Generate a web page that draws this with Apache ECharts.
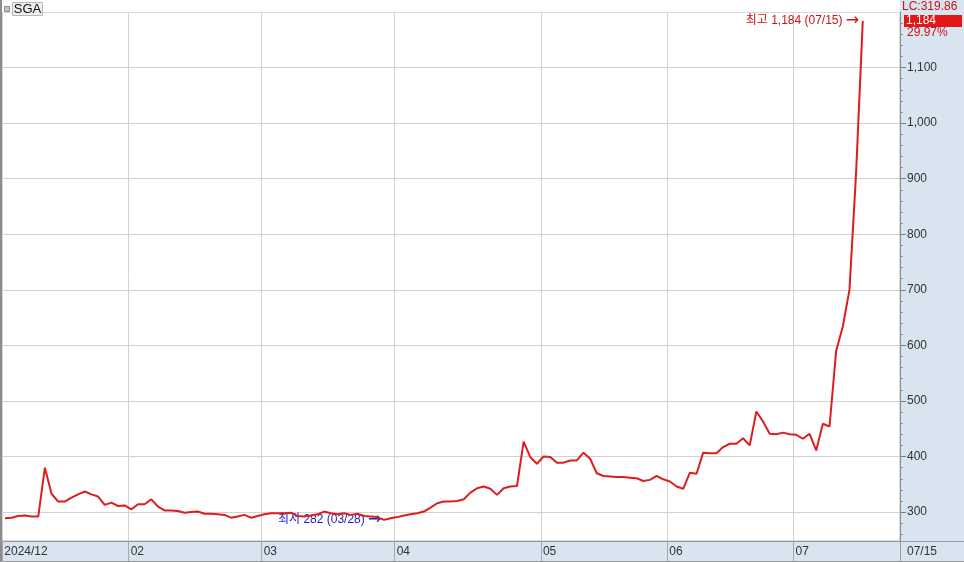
<!DOCTYPE html>
<html><head><meta charset="utf-8">
<script src="https://cdn.jsdelivr.net/npm/echarts@6/dist/echarts.min.js"></script>
<style>html,body{margin:0;padding:0;background:#fff}#c{width:964px;height:562px}</style>
</head><body><div id="c"></div>
<script>
// ---- data ----
const dates = [
 '2024/12/30',
 '2025/01/02','2025/01/03','2025/01/06','2025/01/07','2025/01/08','2025/01/09','2025/01/10','2025/01/13','2025/01/14','2025/01/15','2025/01/16','2025/01/17','2025/01/20','2025/01/21','2025/01/22','2025/01/23','2025/01/24','2025/01/31',
 '2025/02/03','2025/02/04','2025/02/05','2025/02/06','2025/02/07','2025/02/10','2025/02/11','2025/02/12','2025/02/13','2025/02/14','2025/02/17','2025/02/18','2025/02/19','2025/02/20','2025/02/21','2025/02/24','2025/02/25','2025/02/26','2025/02/27','2025/02/28',
 '2025/03/04','2025/03/05','2025/03/06','2025/03/07','2025/03/10','2025/03/11','2025/03/12','2025/03/13','2025/03/14','2025/03/17','2025/03/18','2025/03/19','2025/03/20','2025/03/21','2025/03/24','2025/03/25','2025/03/26','2025/03/27','2025/03/28','2025/03/31',
 '2025/04/01','2025/04/02','2025/04/03','2025/04/04','2025/04/07','2025/04/08','2025/04/09','2025/04/10','2025/04/11','2025/04/14','2025/04/15','2025/04/16','2025/04/17','2025/04/18','2025/04/21','2025/04/22','2025/04/23','2025/04/24','2025/04/25','2025/04/28','2025/04/29','2025/04/30',
 '2025/05/02','2025/05/07','2025/05/08','2025/05/09','2025/05/12','2025/05/13','2025/05/14','2025/05/15','2025/05/16','2025/05/19','2025/05/20','2025/05/21','2025/05/22','2025/05/23','2025/05/26','2025/05/27','2025/05/28','2025/05/29','2025/05/30',
 '2025/06/02','2025/06/04','2025/06/05','2025/06/09','2025/06/10','2025/06/11','2025/06/12','2025/06/13','2025/06/16','2025/06/17','2025/06/18','2025/06/19','2025/06/20','2025/06/23','2025/06/24','2025/06/25','2025/06/26','2025/06/27','2025/06/30',
 '2025/07/01','2025/07/02','2025/07/03','2025/07/04','2025/07/07','2025/07/08','2025/07/09','2025/07/10','2025/07/11','2025/07/14','2025/07/15'
];
const closes = [
 289,
 290,293,294,292,292,380,333,319,319,326,332,337,332,328,313,317,311,312,
 305,314,314,323,310,303,303,302,299,300,301,297,297,296,295,290,292,295,290,293,
 296,298,298,298,299,293,292,294,296,301,298,296,298,295,297,293,292,291,286,289,
 291,294,296,298,301,308,316,319,319,320,323,335,343,346,342,331,343,346,347,427,399,387,
 400,399,389,389,393,393,407,396,370,365,364,363,363,362,361,356,358,365,359,
 355,346,342,371,369,407,406,406,417,423,423,433,420,481,463,441,440,443,440,
 439,432,441,411,459,454,590,634,700,911,1184
];
const yTickValues = [300,400,500,600,700,800,900,1000,1100];
const yMinorTickValues = [260,280,320,340,360,380,420,440,460,480,520,540,560,580,620,640,660,680,720,740,760,780,820,840,860,880,920,940,960,980,1020,1040,1060,1080,1120,1140,1160,1180];
const highMark = {date:'2025/07/15', value:1184, label:'최고 1,184 (07/15) '};
const lowMark = {date:'2025/03/28', value:282, label:'최저 282 (03/28) '};
const symbolName = 'SGA';
const lcText = 'LC:319.86';
const lastPriceText = '1,184';
const lastChangeText = '29.97%';
const lastDateText = '07/15';

// ---- derived ----
const labelIdx = [], labelTxt = [];
dates.forEach((d, i) => {
  const ym = d.slice(0, 7);
  if (i === 0) { labelIdx.push(0); labelTxt.push(ym); return; }
  if (ym !== dates[i - 1].slice(0, 7)) {
    if (i - labelIdx[labelIdx.length - 1] > 10) { labelIdx.push(i); labelTxt.push(d.slice(5, 7)); }
  }
});
const GOFF = 0.4;
const tickVals = labelIdx.map(i => i - GOFF);
const seriesData = closes.map((v, i) => [i, v]);
const hiIdx = dates.indexOf(highMark.date);
const loIdx = dates.indexOf(lowMark.date);
const fmt = v => v.toLocaleString('en-US');
const FONT = 'Liberation Sans, "Noto Sans CJK KR", sans-serif';
const arrowRich = c => ({t: {color: c, fontSize: 12, fontFamily: FONT}, a: {color: c, fontSize: 16, fontFamily: 'DejaVu Sans', verticalAlign: 'middle'}});

const chart = echarts.init(document.getElementById('c'), null, {renderer: 'canvas'});
const option = {
  animation: false,
  backgroundColor: '#d8e4f0',
  textStyle: {fontFamily: FONT},
  grid: {left: 0, right: 64, top: 12, bottom: 21, show: true, backgroundColor: '#ffffff', borderColor: '#b4b4b4', borderWidth: 1},
  xAxis: {
    type: 'value', min: -0.75, max: 134.6,
    axisLine: {show: true, onZero: false, lineStyle: {color: '#999999'}},
    axisTick: {show: true, customValues: tickVals, length: 20, lineStyle: {color: '#a8a8a8'}},
    axisLabel: {
      show: true, customValues: tickVals, align: 'left', margin: 5, padding: [0, 0, 0, 2],
      color: '#333333', fontSize: 12, fontFamily: FONT,
      formatter: v => { const k = labelIdx.indexOf(Math.round(v + GOFF)); return k >= 0 ? labelTxt[k] : ''; }
    },
    splitLine: {show: true, lineStyle: {color: '#d2d2d2', width: 1}}
  },
  yAxis: [{
    type: 'value', position: 'right', min: 248, max: 1200,
    axisLine: {show: true, onZero: false, lineStyle: {color: '#909090'}},
    axisTick: {show: true, customValues: yTickValues, length: 6, lineStyle: {color: '#808080'}},
    axisLabel: {show: true, customValues: yTickValues, margin: 7, color: '#333333', fontSize: 12, fontFamily: FONT, formatter: v => fmt(v)},
    splitLine: {show: true, lineStyle: {color: '#d2d2d2', width: 1}}
  }, {
    type: 'value', position: 'right', min: 248, max: 1200,
    axisLine: {show: false, onZero: false},
    axisTick: {show: true, customValues: yMinorTickValues, length: 3, lineStyle: {color: '#909090'}},
    axisLabel: {show: false},
    splitLine: {show: false}
  }],
  series: [{
    type: 'line', data: seriesData, yAxisIndex: 0, showSymbol: false, symbol: 'none',
    lineStyle: {color: '#dc1e1e', width: 2}, z: 5,
    markPoint: {
      symbol: 'circle', symbolSize: 1, itemStyle: {color: 'rgba(0,0,0,0)'},
      data: [
        {coord: [hiIdx, closes[hiIdx]], label: {show: true, position: 'left', distance: 3, formatter: '{t|' + highMark.label + '}{a|→}', rich: arrowRich('#d01414')}},
        {coord: [loIdx, closes[loIdx]], label: {show: true, position: 'left', distance: 2, formatter: '{t|' + lowMark.label + '}{a|→}', rich: arrowRich('#1c1cc0')}}
      ]
    }
  }],
  graphic: []
};
chart.setOption(option);

const lastY = chart.convertToPixel({yAxisIndex: 0}, closes[closes.length - 1]);
chart.setOption({graphic: [
  {type: 'rect', shape: {x: 2, y: 0, width: 898, height: 12}, style: {fill: '#ffffff'}, z: 1},
  {type: 'rect', shape: {x: 0, y: 0, width: 2, height: 562}, style: {fill: '#8c8c8c'}, z: 10},
  {type: 'line', shape: {x1: 0, y1: 541.5, x2: 964, y2: 541.5}, style: {stroke: '#9a9a9a', lineWidth: 1}, z: 10},
  {type: 'line', shape: {x1: 0, y1: 561.5, x2: 964, y2: 561.5}, style: {stroke: '#9a9a9a', lineWidth: 1}, z: 10},
  {type: 'line', shape: {x1: 900.5, y1: 541, x2: 900.5, y2: 562}, style: {stroke: '#9a9a9a', lineWidth: 1}, z: 10},
  {type: 'rect', shape: {x: 4.5, y: 6.5, width: 5, height: 5}, style: {fill: '#c4c4c4', stroke: '#8a8a8a', lineWidth: 1}, z: 10},
  {type: 'rect', shape: {x: 12.5, y: 2.5, width: 30, height: 13}, style: {fill: '#ececec', stroke: '#b8b8b8', lineWidth: 1}, z: 10},
  {type: 'text', x: 27.5, y: 9.5, style: {text: symbolName, fill: '#111111', font: '13px ' + FONT, textAlign: 'center', textVerticalAlign: 'middle'}, z: 11},
  {type: 'text', x: 902, y: 7, style: {text: lcText, fill: '#c81414', font: '12px ' + FONT, textAlign: 'left', textVerticalAlign: 'middle'}, z: 11},
  {type: 'rect', shape: {x: 904, y: Math.round(lastY) - 6, width: 58, height: 12}, style: {fill: '#e01818'}, z: 11},
  {type: 'text', x: 906, y: Math.round(lastY), style: {text: lastPriceText, fill: '#ffffff', font: '12px ' + FONT, textAlign: 'left', textVerticalAlign: 'middle'}, z: 12},
  {type: 'text', x: 907, y: Math.round(lastY) + 12, style: {text: lastChangeText, fill: '#c81414', font: '12px ' + FONT, textAlign: 'left', textVerticalAlign: 'middle'}, z: 11},
  {type: 'text', x: 907, y: 551.5, style: {text: lastDateText, fill: '#333333', font: '12px ' + FONT, textAlign: 'left', textVerticalAlign: 'middle'}, z: 11}
]});
</script></body></html>
